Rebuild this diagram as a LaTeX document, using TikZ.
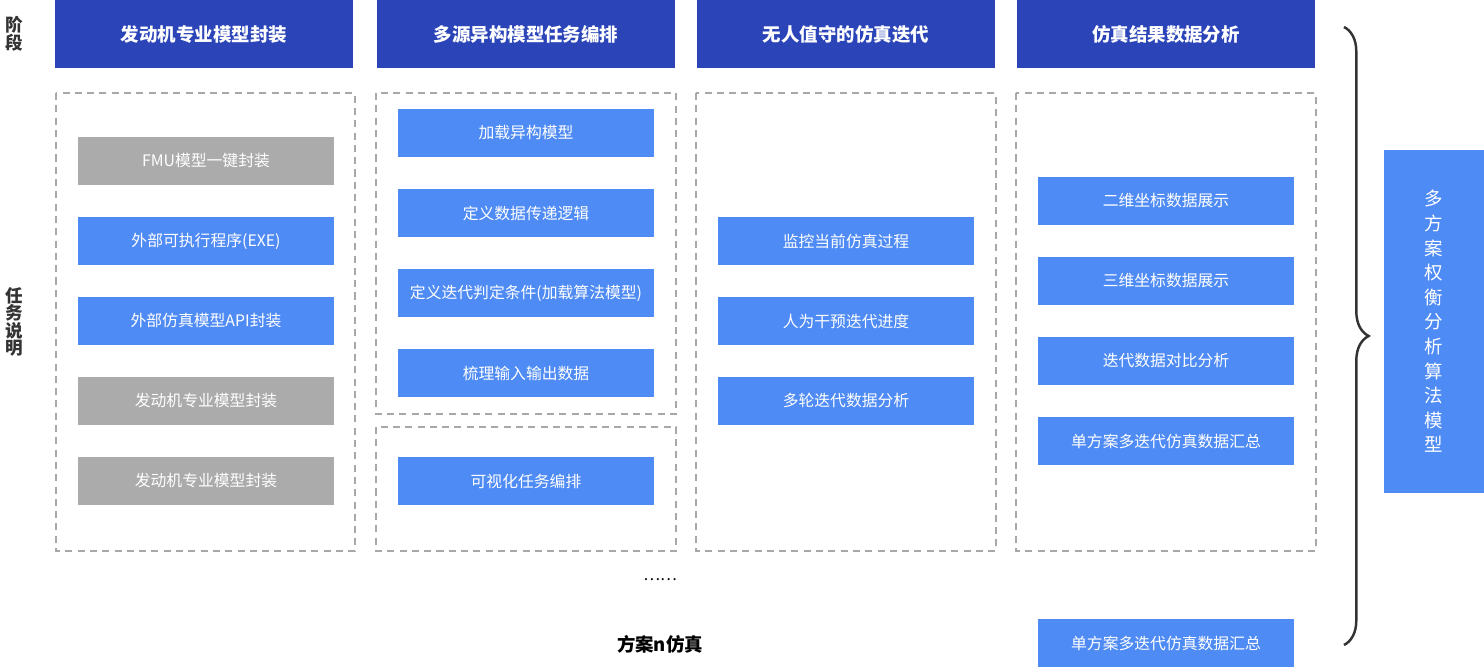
\documentclass[tikz,border=0pt]{standalone}
\usepackage{fontspec}
\setmainfont{Noto Sans CJK SC}
\usetikzlibrary{positioning,decorations.pathreplacing}
\definecolor{hdblue}{HTML}{2B45B9}
\definecolor{itblue}{HTML}{4F8BF5}
\definecolor{itgray}{HTML}{ABABAB}
\definecolor{dashgray}{HTML}{A8A8A8}
\tikzset{
	hdbox/.style={fill=hdblue,text=white,font=\fontsize{10.5pt}{12pt}\selectfont\bfseries,minimum width=5.95cm,minimum height=1.36cm,inner sep=0pt},
	blitem/.style={fill=itblue,text=white,font=\fontsize{9pt}{11pt}\selectfont,minimum width=5.12cm,minimum height=0.96cm,inner sep=0pt},
	gritem/.style={blitem,fill=itgray},
	dashbox/.style={draw=dashgray,line width=0.8pt,dash pattern=on 4pt off 3pt},
	sidelbl/.style={font=\fontsize{10pt}{12pt}\selectfont\bfseries,text=black!80}
}
\begin{document}
\begin{tikzpicture}[x=0.02cm,y=-0.02cm]
	\useasboundingbox (0,0) rectangle (1484,668);
	% stage headers
	\node[hdbox] (h1) at (204,34) {发动机专业模型封装};
	\node[hdbox] (h2) at (526,34) {多源异构模型任务编排};
	\node[hdbox] (h3) at (846,34) {无人值守的仿真迭代};
	\node[hdbox] (h4) at (1166,34) {仿真结果数据分析};
	% dashed frames
	\draw[dashbox] (56,93) rectangle (355,551);
	\draw[dashbox] (376,93) rectangle (676,414);
	\draw[dashbox] (376,427) rectangle (676,551);
	\draw[dashbox] (696,93) rectangle (996,551);
	\draw[dashbox] (1016,93) rectangle (1316,551);
	% column 1
	\node[gritem] (a1) at (206,161) {FMU模型一键封装};
	\node[blitem] (a2) at (206,241) {外部可执行程序(EXE)};
	\node[blitem] (a3) at (206,321) {外部仿真模型API封装};
	\node[gritem] (a4) at (206,401) {发动机专业模型封装};
	\node[gritem] (a5) at (206,481) {发动机专业模型封装};
	% column 2
	\node[blitem] (b1) at (526,133) {加载异构模型};
	\node[blitem] (b2) at (526,213) {定义数据传递逻辑};
	\node[blitem] (b3) at (526,293) {定义迭代判定条件(加载算法模型)};
	\node[blitem] (b4) at (526,373) {梳理输入输出数据};
	\node[blitem] (b5) at (526,481) {可视化任务编排};
	% column 3
	\node[blitem] (c1) at (846,241) {监控当前仿真过程};
	\node[blitem] (c2) at (846,321) {人为干预迭代进度};
	\node[blitem] (c3) at (846,401) {多轮迭代数据分析};
	% column 4
	\node[blitem] (d1) at (1166,201) {二维坐标数据展示};
	\node[blitem] (d2) at (1166,281) {三维坐标数据展示};
	\node[blitem] (d3) at (1166,361) {迭代数据对比分析};
	\node[blitem] (d4) at (1166,441) {单方案多迭代仿真数据汇总};
	\node[blitem] (d5) at (1166,643) {单方案多迭代仿真数据汇总};
	% side labels
	\node[sidelbl,align=center] (stg) at (14,34) {阶\\[-2pt]段};
	\node[sidelbl,align=center] (tsk) at (14,322) {任\\[-2pt]务\\[-2pt]说\\[-2pt]明};
	\node[font=\fontsize{9pt}{11pt}\selectfont] (dots) at (660,580) {……};
	\node[font=\fontsize{10.5pt}{12pt}\selectfont\bfseries] (plan) at (660,644) {方案n仿真};
	% trade-off model
	\node[fill=itblue,text=white,font=\fontsize{10.5pt}{14pt}\selectfont,minimum width=2cm,minimum height=6.86cm,inner sep=0pt,align=center] (m) at (1434,321.5) {多\\方\\案\\权\\衡\\分\\析\\算\\法\\模\\型};
	\draw[line width=1.4pt,black!80,decorate,decoration={brace,amplitude=14pt}] (1344,27) -- (1344,645);
\end{tikzpicture}
\end{document}
